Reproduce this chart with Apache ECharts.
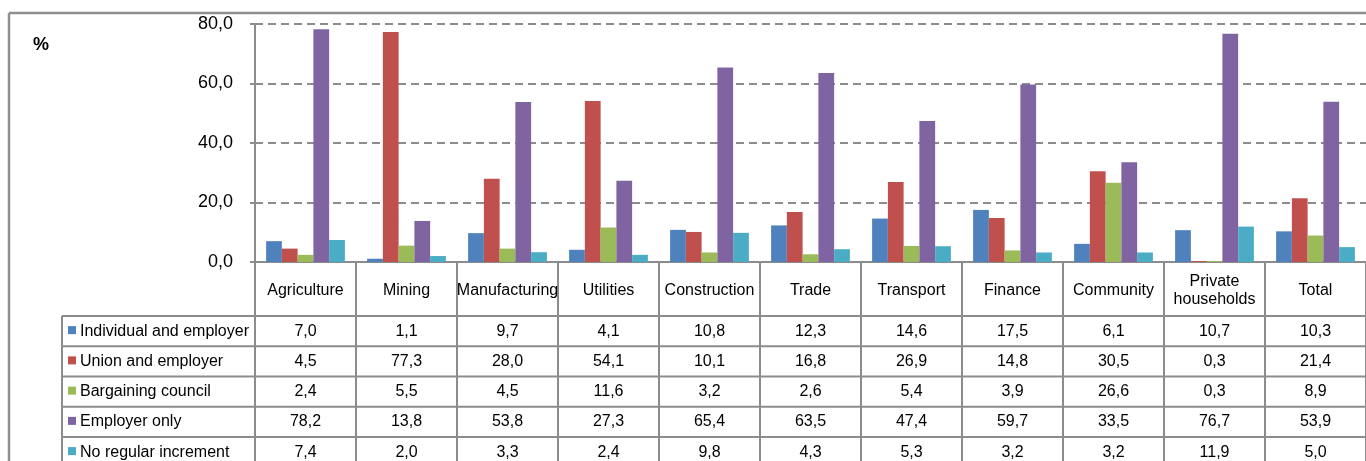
<!DOCTYPE html>
<html>
<head>
<meta charset="utf-8">
<script src="https://cdn.jsdelivr.net/npm/echarts@6/dist/echarts.min.js"></script>
<style>
  html, body { margin: 0; padding: 0; background: #fff; }
  #chart { width: 1366px; height: 461px; }
</style>
</head>
<body>
<div id="chart"></div>
<script>
const categories = ['Agriculture', 'Mining', 'Manufacturing', 'Utilities', 'Construction', 'Trade',
  'Transport', 'Finance', 'Community', 'Private households', 'Total']
const seriesNames = ['Individual and employer', 'Union and employer', 'Bargaining council',
  'Employer only', 'No regular increment']
const individualAndEmployer = [7.0, 1.1, 9.7, 4.1, 10.8, 12.3, 14.6, 17.5, 6.1, 10.7, 10.3]
const unionAndEmployer = [4.5, 77.3, 28.0, 54.1, 10.1, 16.8, 26.9, 14.8, 30.5, 0.3, 21.4]
const bargainingCouncil = [2.4, 5.5, 4.5, 11.6, 3.2, 2.6, 5.4, 3.9, 26.6, 0.3, 8.9]
const employerOnly = [78.2, 13.8, 53.8, 27.3, 65.4, 63.5, 47.4, 59.7, 33.5, 76.7, 53.9]
const noRegularIncrement = [7.4, 2.0, 3.3, 2.4, 9.8, 4.3, 5.3, 3.2, 3.2, 11.9, 5.0]
const yTicks = [0, 20, 40, 60, 80]

const values = [individualAndEmployer, unionAndEmployer, bargainingCouncil, employerOnly, noRegularIncrement]
const colors = ['#4F81BD', '#C0504D', '#9BBB59', '#8064A2', '#4BACC6']
const font = '"Liberation Sans", Arial, sans-serif'
const lineGray = '#8c8c8c'

// layout of the plot and the data table under it
const gridLeft = 255, gridTop = 24, gridWidth = 1120, gridHeight = 238
const headerH = 54, rowH = 30.25
const tableLeft = 62
const axisY = gridTop + gridHeight

const fmt = v => v.toFixed(1).replace('.', ',')

var chart = echarts.init(document.getElementById('chart'))

// one extra category axis per table row, used only for its labels
const rowAxes = values.map((vals, k) => ({
  type: 'category',
  gridIndex: 0,
  position: 'bottom',
  data: categories,
  offset: headerH + rowH * k,
  axisLine: { show: false },
  axisTick: { show: false },
  axisLabel: {
    interval: 0,
    margin: rowH / 2,
    verticalAlign: 'middle',
    fontSize: 16,
    fontFamily: font,
    color: '#000',
    formatter: (v, i) => fmt(vals[i]),
  },
}))

const graphics = []
// outer frame (top and left)
graphics.push({ type: 'line', shape: { x1: 9, y1: 13, x2: 1366, y2: 13 }, style: { stroke: '#8f8f8f', lineWidth: 2.5 } })
graphics.push({ type: 'line', shape: { x1: 9, y1: 13, x2: 9, y2: 461 }, style: { stroke: '#8f8f8f', lineWidth: 2.5 } })
// table horizontal rules
for (let k = 0; k <= values.length; k++) {
  const y = axisY + headerH + rowH * k
  graphics.push({ type: 'line', shape: { x1: tableLeft, y1: y, x2: 1366, y2: y }, style: { stroke: lineGray, lineWidth: 2 } })
}
graphics.push({ type: 'line', shape: { x1: tableLeft, y1: axisY + headerH, x2: tableLeft, y2: 461 }, style: { stroke: lineGray, lineWidth: 2 } })
// row headers: legend key + series name
seriesNames.forEach((name, k) => {
  const cy = axisY + headerH + rowH * k + rowH / 2
  graphics.push({ type: 'rect', shape: { x: 68, y: cy - 5, width: 8, height: 8 }, style: { fill: colors[k] } })
  graphics.push({
    type: 'text', x: 80, y: cy,
    style: { text: name, fontSize: 16, fontFamily: font, fill: '#000', verticalAlign: 'middle', align: 'left' },
  })
})

var option = {
  animation: false,
  color: colors,
  title: {
    text: '%',
    left: 28,
    top: 31,
    textStyle: { fontSize: 18, fontWeight: 'bold', fontFamily: font, color: '#000' },
  },
  grid: { left: gridLeft, top: gridTop, width: gridWidth, height: gridHeight, containLabel: false },
  xAxis: [
    {
      type: 'category',
      data: categories,
      axisLine: { lineStyle: { color: lineGray, width: 2 } },
      axisTick: { show: true, interval: 0, length: 210, lineStyle: { color: lineGray, width: 2 } },
      axisLabel: {
        interval: 0,
        margin: headerH / 2 + 2,
        verticalAlign: 'middle',
        fontSize: 16,
        lineHeight: 18,
        fontFamily: font,
        color: '#000',
        formatter: v => v.replace(' ', '\n'),
      },
    },
    ...rowAxes,
  ],
  yAxis: {
    type: 'value',
    min: 0,
    max: 80,
    interval: 20,
    axisLine: { show: true, lineStyle: { color: lineGray, width: 2 } },
    axisTick: { show: true, length: 5, lineStyle: { color: lineGray, width: 2 } },
    axisLabel: {
      margin: 22,
      fontSize: 18,
      fontFamily: font,
      color: '#000',
      formatter: v => (yTicks.includes(v) ? fmt(v) : ''),
    },
    splitLine: { lineStyle: { color: lineGray, width: 2, type: [8, 5] } },
  },
  series: seriesNames.map((name, k) => ({
    name: name,
    type: 'bar',
    xAxisIndex: 0,
    data: values[k],
    barGap: '0%',
    barCategoryGap: '22%',
  })),
  graphic: graphics,
}
option && chart.setOption(option)
window.onresize = () => {
  chart.resize()
}
</script>
</body>
</html>
